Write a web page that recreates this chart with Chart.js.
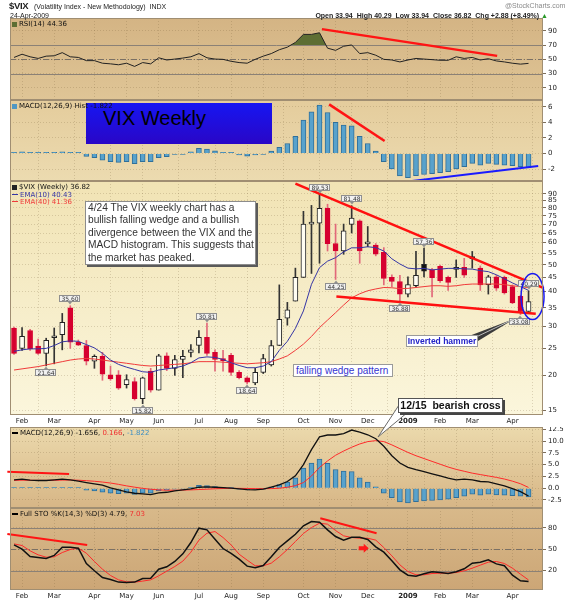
<!DOCTYPE html>
<html>
<head>
<meta charset="utf-8">
<title>$VIX Weekly</title>
<script src="https://cdn.jsdelivr.net/npm/chart.js@4.4.1/dist/chart.umd.min.js"></script>
<style>
  html, body { margin: 0; padding: 0; background: #fff; }
  body { position: relative; width: 568px; height: 600px; overflow: hidden;
         font-family: 'Liberation Sans', Arial, sans-serif; color: #222; }
  canvas.panel { position: absolute; left: 0; }
  #overlay { position: absolute; left: 0; top: 0; z-index: 5; pointer-events: none; }
  .t { position: absolute; white-space: nowrap; z-index: 8; line-height: 1; }
  .hd { font-size: 7px; }
  .lg { font: 7px 'DejaVu Sans', sans-serif; color: #111; }
  .dash { display: inline-block; width: 6px; height: 1.5px; vertical-align: middle; margin-right: 2px; }
  .box { position: absolute; z-index: 6; background: #fff; white-space: nowrap; box-sizing: border-box; }
</style>
</head>
<body>

<!-- header -->
<div class="t" style="left:9px;top:1px;font-size:9.5px;font-weight:bold;letter-spacing:-0.3px">$VIX</div>
<div class="t hd" style="left:34px;top:3px">(Volatility Index - New Methodology)&nbsp; INDX</div>
<div class="t hd" style="left:505px;top:2px;color:#8a8a8a">@StockCharts.com</div>
<div class="t hd" style="left:10px;top:12px">24-Apr-2009</div>
<div class="t hd" style="right:20px;top:12px;font-weight:bold">Open 33.94 &nbsp;High 40.29 &nbsp;Low 33.94 &nbsp;Close 36.82 &nbsp;Chg +2.88 (+8.49%) <span style="color:#2a9a2a">&#9650;</span></div>

<canvas class="panel" id="c-rsi"  width="568" height="82"  style="top:18px"></canvas>
<canvas class="panel" id="c-hist" width="568" height="81"  style="top:100px"></canvas>
<canvas class="panel" id="c-main" width="568" height="246" style="top:181px"></canvas>
<canvas class="panel" id="c-macd" width="568" height="81"  style="top:427px"></canvas>
<canvas class="panel" id="c-sto"  width="568" height="92"  style="top:508px"></canvas>
<canvas id="overlay" width="568" height="600"></canvas>

<!-- panel legends -->
<div class="t lg" style="left:12px;top:20px"><span class="dash" style="width:5px;height:5px;background:#5d6e33;vertical-align:-1px"></span>RSI(14) 44.36</div>
<div class="t lg" style="left:12px;top:102px"><span class="dash" style="width:5px;height:5px;background:#4f97c4;vertical-align:-1px"></span>MACD(12,26,9) Hist -1.822</div>
<div class="t lg" style="left:12px;top:183px"><span class="dash" style="width:5px;height:5px;background:#222;vertical-align:-1px"></span>$VIX (Weekly) 36.82</div>
<div class="t lg" style="left:12px;top:190.5px"><span class="dash" style="background:#3535a5"></span><span style="color:#3535a5">EMA(10) 40.43</span></div>
<div class="t lg" style="left:12px;top:197.5px"><span class="dash" style="background:#f03a3a"></span><span style="color:#f03a3a">EMA(40) 41.36</span></div>
<div class="t lg" style="left:12px;top:429px"><span class="dash" style="background:#000"></span>MACD(12,26,9) -1.656, <span style="color:#f03030">0.166</span>, <span style="color:#3d8fc4">-1.822</span></div>
<div class="t lg" style="left:12px;top:510px"><span class="dash" style="background:#000"></span>Full STO %K(14,3) %D(3) 4.79, <span style="color:#f03030">7.03</span></div>

<!-- annotations -->
<div class="box" style="left:86px;top:103px;width:186px;height:41px;background:linear-gradient(#1616f2,#2a06c6);">
  <span style="position:absolute;left:17px;top:3px;font-size:20px;line-height:24px;color:#000">VIX Weekly</span>
</div>
<div class="box" style="left:85px;top:201px;width:171px;height:64px;border:1px solid #8c8c8c;box-shadow:2px 2px 0 #5a5a5a;padding:0 0 0 2px;font-size:10.2px;line-height:12.4px;color:#333">4/24 The VIX weekly chart has a<br>bullish falling wedge and a bullish<br>divergence between the VIX and the<br>MACD histogram. This suggests that<br>the market has peaked.</div>
<div class="box" style="left:293px;top:364px;width:100px;height:13px;border:1px solid #9a9a9a;padding-left:2px;font-size:10px;line-height:11px;color:#3535d0">falling wedge pattern</div>
<div class="box" style="left:406px;top:335px;width:72px;height:12px;border:1px solid #9a9a9a;text-align:center;font-size:8.5px;font-weight:bold;line-height:10px;color:#2323c8">Inverted hammer</div>
<div class="box" style="left:398px;top:398px;width:105px;height:15px;border:1px solid #555;box-shadow:2px 2px 0 #444;text-align:center;font-size:10.5px;font-weight:bold;line-height:13px;color:#111">12/15&nbsp; bearish cross</div>

<script>
// ── Data (weekly) ───────────────────────────────────────────

const WEEKS = [
  '08-02-01','08-02-08','08-02-15','08-02-22','08-02-29','08-03-07','08-03-14','08-03-20','08-03-28',
  '08-04-04','08-04-11','08-04-18','08-04-25','08-05-02','08-05-09','08-05-16','08-05-23','08-05-30',
  '08-06-06','08-06-13','08-06-20','08-06-27','08-07-03','08-07-11','08-07-18','08-07-25','08-08-01',
  '08-08-08','08-08-15','08-08-22','08-08-29','08-09-05','08-09-12','08-09-19','08-09-26','08-10-03',
  '08-10-10','08-10-17','08-10-24','08-10-31','08-11-07','08-11-14','08-11-21','08-11-28','08-12-05',
  '08-12-12','08-12-19','08-12-26','09-01-02','09-01-09','09-01-16','09-01-23','09-01-30','09-02-06',
  '09-02-13','09-02-20','09-02-27','09-03-06','09-03-13','09-03-20','09-03-27','09-04-03','09-04-09',
  '09-04-17','09-04-24',
];

const OPEN  = [29.6,25.0,29.0,25.5,24.0,27.3,28.0,35.0,26.3,25.6,22.5,23.4,20.1,20.1,18.5,19.0,16.5,20.7,17.7,23.5,21.2,22.8,24.2,25.6,27.4,24.2,23.0,23.6,20.5,19.6,18.8,20.5,21.8,25.6,32.1,37.0,45.0,70.0,70.5,79.7,59.6,56.0,69.8,71.9,59.4,58.8,55.4,45.0,43.5,39.2,42.0,50.1,47.9,49.3,45.0,48.1,48.9,53.0,48.6,42.4,45.2,45.0,41.7,38.5,33.94];
const HIGH  = [29.8,29.7,29.3,27.0,27.2,29.6,33.4,35.60,26.8,26.7,23.7,24.2,21.6,20.8,20.1,19.6,19.7,21.2,23.8,24.1,23.6,24.6,25.8,29.0,30.81,24.7,24.6,24.0,20.8,19.8,21.2,23.8,26.7,42.3,36.6,48.6,77.8,81.7,89.53,82.5,70.0,70.0,81.48,72.5,68.6,59.6,57.6,46.0,45.8,45.2,55.8,57.36,48.5,49.8,45.5,52.0,52.7,55.8,49.5,45.8,45.8,45.5,42.3,38.8,40.29];
const LOW   = [23.8,24.6,24.6,23.8,21.64,22.0,24.7,25.0,25.6,21.8,21.2,19.2,19.2,17.8,18.0,16.3,15.82,17.4,17.7,20.8,20.0,19.6,23.3,24.1,23.6,20.7,20.7,20.0,19.4,18.64,18.5,20.3,21.6,25.6,30.3,37.0,45.0,46.5,50.6,56.0,44.25,54.5,65.0,50.6,58.0,53.8,42.3,41.7,36.88,38.3,41.4,45.2,38.3,43.2,40.4,45.0,45.0,48.6,40.4,39.2,40.4,39.2,36.2,33.08,33.94];
const CLOSE = [24.0,27.6,24.9,24.0,26.7,27.5,31.0,26.3,25.7,22.5,23.4,20.2,19.4,18.0,19.3,16.5,19.6,17.7,23.5,21.2,22.8,23.4,24.7,27.4,24.0,22.8,22.6,20.5,19.6,18.9,20.5,23.0,25.6,31.8,34.4,45.0,70.0,70.3,79.7,59.5,56.0,66.2,73.5,56.0,59.6,54.6,44.6,43.5,39.2,42.4,45.8,47.4,44.9,43.8,43.2,48.9,45.8,52.6,42.3,45.2,41.2,39.6,36.4,33.94,36.82];

const EMA10 = [24.4,24.7,24.9,24.9,25.0,25.6,26.4,26.6,26.5,25.8,25.1,24.0,22.7,21.9,21.4,21.0,20.6,20.5,20.9,21.1,21.3,21.6,22.2,23.1,23.3,23.2,22.8,22.2,21.7,21.3,21.3,21.6,22.4,24.6,26.5,29.5,34.1,42.5,48.8,51.5,53.0,55.6,57.5,57.5,58.0,57.6,56.0,52.5,50.3,48.6,48.3,48.5,47.9,48.2,48.5,48.5,48.3,48.2,47.6,47.2,46.0,44.5,43.0,41.7,40.43];
const EMA40 = [20.9,21.1,21.3,21.5,21.8,22.1,22.4,22.7,22.9,23.0,22.9,22.7,22.5,22.3,22.1,21.9,21.7,21.6,21.7,21.8,21.9,22.0,22.2,22.4,22.4,22.4,22.3,22.2,22.1,22.0,22.1,22.2,22.4,22.9,23.5,24.6,25.9,27.6,29.7,31.6,33.6,35.8,38.0,39.3,40.3,40.9,41.4,41.3,41.0,41.1,41.4,41.7,42.0,42.0,41.8,42.0,42.4,42.6,42.6,42.6,42.6,42.4,42.0,41.7,41.36];

const RSI = [52.7,57.2,53.6,51.3,54.5,55.0,59.4,53.6,52.7,48.2,48.2,44.6,43.7,42.4,44.6,40.1,45.5,43.7,52.2,49.1,50.4,51.8,53.6,58.1,52.2,50.4,50.0,47.3,45.5,44.6,50.0,54.5,58.1,63.5,67.1,73.8,85.0,85.0,87.3,65.7,62.6,68.4,70.2,58.1,59.4,55.8,50.0,49.1,46.4,49.1,51.3,50.4,49.6,48.7,48.7,53.6,51.3,52.7,49.1,50.9,47.8,46.4,44.6,43.3,44.36];

const MACD   = [1.79,1.93,1.71,1.64,1.64,1.79,1.93,1.79,1.5,1.21,0.93,0.64,0.07,-0.36,-0.79,-1.07,-1.21,-1.36,-1.0,-0.86,-0.57,-0.36,-0.14,0.21,0.29,0.21,0.14,0.0,-0.14,-0.29,-0.36,-0.21,0.21,0.71,1.43,2.64,5.0,8.2,10.9,11.3,11.3,11.6,12.35,11.9,11.35,10.5,8.9,6.9,5.36,4.43,3.93,3.5,3.07,2.64,2.14,1.79,1.93,1.79,1.43,1.36,0.93,0.5,-0.07,-0.71,-1.656];
const SIGNAL = [1.66,1.70,1.68,1.67,1.66,1.68,1.72,1.74,1.70,1.60,1.48,1.31,1.10,0.82,0.50,0.22,-0.03,-0.22,-0.35,-0.42,-0.43,-0.40,-0.35,-0.28,-0.20,-0.12,-0.06,-0.03,-0.03,-0.05,-0.08,-0.10,-0.08,0.0,0.20,0.55,1.20,2.60,4.40,5.80,7.00,7.90,8.70,9.40,9.90,10.10,9.90,9.20,8.40,7.60,6.90,6.30,5.70,5.10,4.50,4.00,3.60,3.20,2.90,2.60,2.30,1.95,1.50,0.95,0.166];
const HIST   = [0.1,0.2,0.1,0.05,0.05,0.05,0.2,0.1,0.05,-0.4,-0.55,-0.85,-1.07,-1.15,-1.07,-1.3,-1.07,-1.07,-0.55,-0.43,-0.13,-0.05,0.2,0.64,0.55,0.34,0.13,0.05,-0.2,-0.34,-0.2,-0.1,0.3,0.77,1.28,2.2,4.28,5.35,6.2,5.26,3.98,3.64,3.55,2.2,1.28,0.3,-1.07,-2.0,-2.9,-3.1,-2.87,-2.7,-2.6,-2.48,-2.35,-2.0,-1.7,-1.28,-1.5,-1.28,-1.41,-1.5,-1.58,-1.7,-1.822];

const STO_K = [56.0,50.0,39.8,38.4,37.0,41.2,52.8,52.8,51.4,30.0,19.8,10.5,7.7,4.0,3.5,4.0,9.1,9.5,22.1,25.4,32.8,43.5,59.3,79.3,77.0,64.0,50.9,44.0,36.0,26.3,24.0,27.2,39.3,52.3,61.6,70.9,82.6,88.6,87.7,77.0,67.7,62.6,66.7,66.7,63.5,53.3,45.8,33.7,21.2,13.7,12.3,15.6,18.4,17.4,16.0,18.4,22.6,30.5,31.9,35.1,29.5,26.8,13.7,5.8,4.79];
const STO_D = [57.4,55.1,47.7,42.1,38.8,39.3,45.3,49.5,51.4,44.4,32.8,22.1,13.3,7.2,4.4,4.0,5.4,7.2,12.8,19.3,25.8,33.3,45.8,62.6,72.3,74.6,66.3,56.0,43.0,34.7,26.8,26.8,30.5,39.3,49.5,60.7,71.9,80.2,86.3,84.9,76.0,68.6,66.3,65.3,65.3,62.6,52.3,40.7,28.1,18.8,14.2,14.2,16.0,16.5,16.5,17.4,19.8,23.5,27.7,31.9,32.8,30.0,23.5,15.1,7.03];

// axis ticks
const MONTH_IDX = [1, 5, 10, 14, 18, 23, 27, 31, 36, 40, 44, 49, 53, 57, 62];
const MONTH_LBL = ['Feb','Mar','Apr','May','Jun','Jul','Aug','Sep','Oct','Nov','Dec','2009','Feb','Mar','Apr'];
const PRICE_TICKS = [15, 20, 25, 30, 35, 40, 45, 50, 55, 60, 65, 70, 75, 80, 85, 90];
const RSI_TICKS  = [90, 70, 50, 30, 10];
const HIST_TICKS = [6, 4, 2, 0, -2];
const MACD_TICKS = [12.5, 10, 7.5, 5, 2.5, 0, -2.5];
const STO_TICKS  = [80, 50, 20];

// hand-drawn trend lines: [week index, value]
const RSI_TREND    = [[38.3, 92.4], [60.1, 54.9]];
const HIST_DOWN    = [[39.2, 6.3], [46.1, 1.6]];
const HIST_UP      = [[48.2, -3.7], [65.2, -1.6]];
const WEDGE_TOP    = [[35.0, 97.9], [65.9, 41.2]];
const WEDGE_BOTTOM = [[40.1, 38.4], [64.9, 33.3]];
const MACD_TREND   = [[-0.83, 3.5], [6.85, 3.0]];
const STO_TREND_A  = [[-0.83, 71.2], [9.1, 55.9]];
const STO_TREND_B  = [[38.1, 93.1], [45.1, 72.2]];

// labelled highs / lows
const PEAKS = [[4,'l'],[7,'h'],[16,'l'],[24,'h'],[29,'l'],[38,'h'],[40,'l'],[42,'h'],[48,'l'],[51,'h'],[63,'l'],[64,'h']];

// ── Shared bits ─────────────────────────────────────────────

const FONT = "'DejaVu Sans', sans-serif";
const GRID = 'rgba(110,85,50,0.22)';
const X_MIN = -0.5, X_MAX = 65.8;
const pts = arr => arr.map((v, i) => ({ x: i, y: v }));

Chart.defaults.font.family = FONT;
Chart.defaults.animation = false;
Chart.defaults.events = [];

const panelBg = {
  id: 'panelBg',
  beforeDraw(chart, args, o) {
    const { ctx, chartArea: a } = chart;
    const g = ctx.createLinearGradient(0, a.top, 0, a.bottom);
    g.addColorStop(0, o.top);
    g.addColorStop(1, o.bottom);
    ctx.save();
    ctx.fillStyle = g;
    ctx.fillRect(a.left, a.top, a.width, a.height);
    ctx.restore();
  },
  afterDraw(chart) {
    const { ctx, chartArea: a } = chart;
    ctx.save();
    ctx.strokeStyle = '#a08e72';
    ctx.lineWidth = 1;
    ctx.strokeRect(Math.round(a.left) + 0.5, Math.round(a.top) + 0.5, Math.round(a.width) - 1, Math.round(a.height) - 1);
    ctx.restore();
  },
};

const refLines = {
  id: 'refLines',
  beforeDatasetsDraw(chart, args, o) {
    if (!o.lines) return;
    const { ctx, chartArea: a, scales: { y } } = chart;
    ctx.save();
    o.lines.forEach(l => {
      const py = Math.round(y.getPixelForValue(l.value)) + 0.5;
      ctx.strokeStyle = l.color;
      ctx.lineWidth = 1;
      ctx.setLineDash(l.dash || []);
      ctx.beginPath();
      ctx.moveTo(a.left, py);
      ctx.lineTo(a.right, py);
      ctx.stroke();
    });
    ctx.restore();
  },
};

function xAxis(labelHeight) {
  return {
    type: 'linear', min: X_MIN, max: X_MAX, offset: false,
    afterBuildTicks: s => { s.ticks = MONTH_IDX.map(v => ({ value: v })); },
    afterFit: s => { s.height = labelHeight; s.paddingLeft = 0; s.paddingRight = 0; },
    grid: { color: GRID, drawTicks: false },
    border: { display: false, dash: [1, 2] },
    ticks: {
      display: labelHeight > 0, autoSkip: false, maxRotation: 0, padding: 2, color: '#222',
      font: c => ({ family: FONT, size: 7, weight: MONTH_LBL[c.index] === '2009' ? 'bold' : 'normal' }),
      callback: (v, i) => MONTH_LBL[i],
    },
  };
}

function yAxis(min, max, ticks, fmt, type) {
  return {
    type: type || 'linear', position: 'right', min, max,
    afterBuildTicks: s => { s.ticks = ticks.map(v => ({ value: v })); },
    afterFit: s => { s.width = 25; s.paddingTop = 0; s.paddingBottom = 0; },
    grid: { color: GRID, tickColor: '#7d6e5a', tickLength: 3 },
    border: { display: false, dash: [1, 2] },
    ticks: { font: { family: FONT, size: 7 }, color: '#222', padding: 2, callback: fmt },
  };
}

function trend(points, color, width) {
  return {
    type: 'line', data: points.map(([x, y]) => ({ x, y })),
    borderColor: color, borderWidth: width || 2.5, pointRadius: 0, clip: false, order: 0,
  };
}

function panel(id, datasets, scales, pluginOpts, extraPlugins) {
  return new Chart(document.getElementById(id), {
    type: 'line',
    data: { datasets },
    options: {
      responsive: false,
      devicePixelRatio: 1,
      layout: { padding: { left: 10, right: 0, top: 0, bottom: 0 } },
      scales,
      plugins: Object.assign({ legend: { display: false }, tooltip: { enabled: false } }, pluginOpts),
    },
    plugins: [panelBg, refLines].concat(extraPlugins || []),
  });
}

const histBars = {
  type: 'bar', data: pts(HIST), barThickness: 5, grouped: false, minBarLength: 1,
  backgroundColor: '#58a2cc', borderColor: '#2f6f9a', borderWidth: 1, order: 3,
};

// ── RSI ─────────────────────────────────────────────────────

panel('c-rsi', [
  { data: pts(RSI), borderColor: '#222', borderWidth: 1, pointRadius: 0, order: 1,
    fill: { target: { value: 70 }, above: '#5d6e33', below: 'rgba(0,0,0,0)' } },
  trend(RSI_TREND, '#ff1414'),
], {
  x: xAxis(0),
  y: yAxis(-7, 108, RSI_TICKS, v => v),
}, {
  panelBg: { top: '#d4b484', bottom: '#dfc596' },
  refLines: { lines: [
    { value: 70, color: '#8b8176' }, { value: 30, color: '#8b8176' },
    { value: 50, color: '#7a7064', dash: [6, 2, 1, 2] },
  ] },
});

// ── MACD histogram ──────────────────────────────────────────

panel('c-hist', [
  histBars,
  trend(HIST_DOWN, '#ff1414'),
  trend(HIST_UP, '#1a1aff', 2),
], {
  x: xAxis(0),
  y: yAxis(-3.54, 6.86, HIST_TICKS, v => v),
}, {
  panelBg: { top: '#e4cc9c', bottom: '#ecdbb0' },
});

// ── Price (candles) ─────────────────────────────────────────

const isUp = CLOSE.map((c, i) => c >= (i ? CLOSE[i - 1] : OPEN[i]));
const isFilled = CLOSE.map((c, i) => c < OPEN[i]);
const RED = '#d6002f';

const peakLabels = {
  id: 'peakLabels',
  afterDatasetsDraw(chart) {
    const { ctx, scales: { x, y } } = chart;
    ctx.save();
    ctx.font = "6px 'DejaVu Sans', sans-serif";
    ctx.textAlign = 'center';
    ctx.textBaseline = 'middle';
    PEAKS.forEach(([i, kind]) => {
      const v = kind === 'h' ? HIGH[i] : LOW[i];
      const txt = v.toFixed(2);
      const px = Math.round(x.getPixelForValue(i));
      const py = y.getPixelForValue(v);
      const w = Math.round(ctx.measureText(txt).width) + 4, h = 7;
      const top = Math.round(kind === 'h' ? py - 3.5 - h : py + 3.5);
      const left = px - Math.round(w / 2);
      ctx.fillStyle = '#f1f1f1';
      ctx.strokeStyle = '#8f8f8f';
      ctx.lineWidth = 1;
      ctx.fillRect(left, top, w, h);
      ctx.strokeRect(left + 0.5, top + 0.5, w - 1, h - 1);
      const ey = kind === 'h' ? top + h : top;
      ctx.fillStyle = '#8f8f8f';
      ctx.beginPath();
      ctx.moveTo(px - 2, ey);
      ctx.lineTo(px + 2, ey);
      ctx.lineTo(px, kind === 'h' ? ey + 2.5 : ey - 2.5);
      ctx.fill();
      ctx.fillStyle = '#333';
      ctx.fillText(txt, px, top + h / 2 + 0.5);
    });
    ctx.restore();
  },
};

const ellipse = {
  id: 'ellipse',
  afterDatasetsDraw(chart, args, o) {
    const { ctx, scales: { x, y } } = chart;
    ctx.save();
    ctx.strokeStyle = '#1a1aee';
    ctx.lineWidth = 1.5;
    ctx.beginPath();
    ctx.ellipse(x.getPixelForValue(o.x), y.getPixelForValue(o.y), o.rx, o.ry, 0, 0, Math.PI * 2);
    ctx.stroke();
    ctx.restore();
  },
};

panel('c-main', [
  { type: 'bar', data: LOW.map((l, i) => ({ x: i, y: [l, HIGH[i]] })),
    barThickness: 1, grouped: false, order: 4,
    backgroundColor: isUp.map(u => u ? '#333' : '#e2687a') },
  { type: 'bar', data: OPEN.map((o, i) => ({ x: i, y: [Math.min(o, CLOSE[i]), Math.max(o, CLOSE[i])] })),
    barThickness: 5, grouped: false, minBarLength: 2, order: 3, borderWidth: 1, borderSkipped: false,
    backgroundColor: isUp.map((u, i) => isFilled[i] ? (u ? '#111' : RED) : '#fffdf2'),
    borderColor: isUp.map(u => u ? '#222' : RED) },
  { data: pts(EMA10), borderColor: '#3535a5', borderWidth: 1, pointRadius: 0, order: 2 },
  { data: pts(EMA40), borderColor: '#f03a3a', borderWidth: 1, pointRadius: 0, order: 2 },
  trend(WEDGE_TOP, '#ff1010', 2.5),
  trend(WEDGE_BOTTOM, '#ff1010', 2.5),
], {
  x: xAxis(12),
  y: yAxis(14.4, 100, PRICE_TICKS, v => v, 'logarithmic'),
}, {
  panelBg: { top: '#f1e3b4', bottom: '#fbf6dc' },
  ellipse: { x: 64.5, y: 38.4, rx: 11.5, ry: 23 },
}, [peakLabels, ellipse]);

// ── MACD ────────────────────────────────────────────────────

panel('c-macd', [
  histBars,
  { data: pts(MACD), borderColor: '#111', borderWidth: 1.3, pointRadius: 0, order: 1 },
  { data: pts(SIGNAL), borderColor: '#ff2a2a', borderWidth: 1, pointRadius: 0, order: 2 },
  trend(MACD_TREND, '#ff1414', 2),
], {
  x: xAxis(0),
  y: yAxis(-4.2, 13.0, MACD_TICKS, v => v.toFixed(1)),
}, {
  panelBg: { top: '#ebd9ac', bottom: '#d7b686' },
});

// ── Full stochastics ────────────────────────────────────────

const arrow = {
  id: 'arrow',
  afterDatasetsDraw(chart, args, o) {
    const { ctx, scales: { x, y } } = chart;
    const cx = x.getPixelForValue(o.x), cy = y.getPixelForValue(o.y);
    ctx.save();
    ctx.fillStyle = '#ff1a1a';
    ctx.beginPath();
    ctx.moveTo(cx - 5, cy - 2);
    ctx.lineTo(cx, cy - 2);
    ctx.lineTo(cx, cy - 4.5);
    ctx.lineTo(cx + 5, cy);
    ctx.lineTo(cx, cy + 4.5);
    ctx.lineTo(cx, cy + 2);
    ctx.lineTo(cx - 5, cy + 2);
    ctx.closePath();
    ctx.fill();
    ctx.restore();
  },
};

panel('c-sto', [
  { data: pts(STO_K), borderColor: '#111', borderWidth: 1.5, pointRadius: 0, order: 1 },
  { data: pts(STO_D), borderColor: '#ff2a2a', borderWidth: 1, pointRadius: 0, order: 2 },
  trend(STO_TREND_A, '#ff1414', 2),
  trend(STO_TREND_B, '#ff1414', 2),
], {
  x: xAxis(10),
  y: yAxis(-7, 107.5, STO_TICKS, v => v),
}, {
  panelBg: { top: '#d8b98a', bottom: '#cca676' },
  refLines: { lines: [
    { value: 80, color: '#8b8176' }, { value: 20, color: '#8b8176' },
    { value: 50, color: '#7a7064', dash: [6, 2, 1, 2] },
  ] },
  arrow: { x: 43.5, y: 51.3 },
}, [arrow]);

// ── Callout pointers ────────────────────────────────────────

const ov = document.getElementById('overlay').getContext('2d');
ov.fillStyle = '#3a3a3a';
ov.beginPath();
ov.moveTo(469, 336); ov.lineTo(478, 341); ov.lineTo(515, 318.5);
ov.closePath(); ov.fill();
ov.strokeStyle = '#ddd'; ov.lineWidth = 0.8;
ov.beginPath(); ov.moveTo(474, 338); ov.lineTo(514, 319); ov.stroke();

ov.fillStyle = '#fff'; ov.strokeStyle = '#6a6a6a'; ov.lineWidth = 1;
ov.beginPath();
ov.moveTo(399, 405); ov.lineTo(408, 412); ov.lineTo(378, 437);
ov.closePath(); ov.fill(); ov.stroke();
</script>
</body>
</html>
